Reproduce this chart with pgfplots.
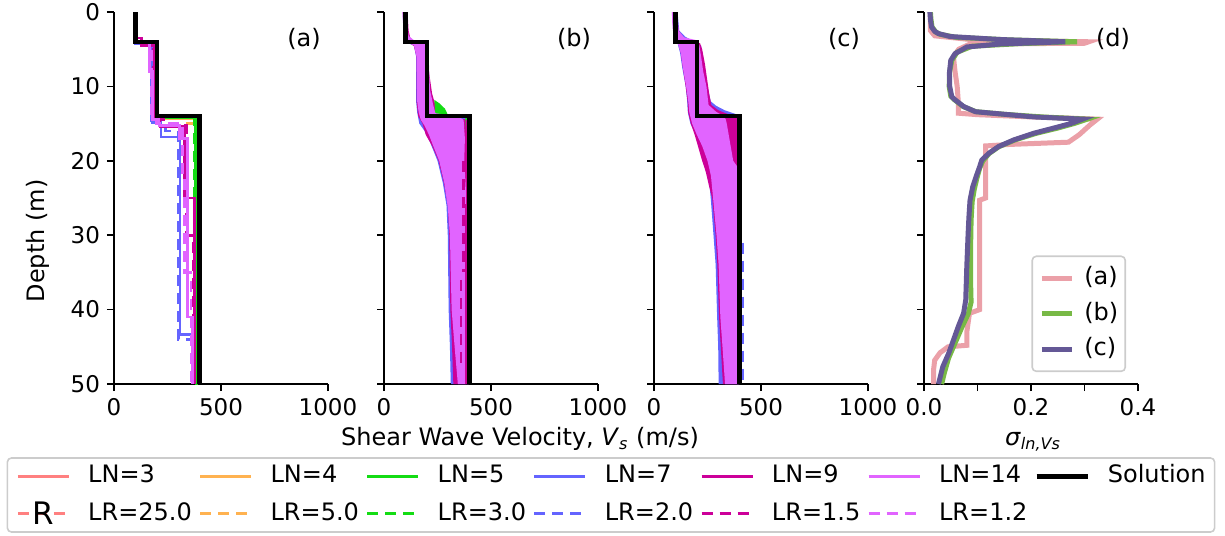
\documentclass[border=0pt]{standalone}
\usepackage{pgfplots}
\pgfplotsset{compat=1.18}
\usepackage{fontspec}
\setmainfont{DejaVu Sans}
\definecolor{cSalmon}{RGB}{255,128,128}
\definecolor{cOrange}{RGB}{255,178,80}
\definecolor{cGreen}{RGB}{20,220,20}
\definecolor{cBlue}{RGB}{100,100,255}
\definecolor{cMag}{RGB}{204,0,153}
\definecolor{cViol}{RGB}{225,100,255}
\definecolor{dA}{RGB}{235,160,168}
\definecolor{dB}{RGB}{120,185,70}
\definecolor{dC}{RGB}{100,88,150}
\pgfplotsset{
  panel/.style={scale only axis, width=107pt, height=186pt, y dir=reverse,
    xmin=0, xmax=1000, ymin=0, ymax=50, enlargelimits=false,
    axis x line=bottom, axis y line=left, axis line style={-, line width=0.8pt, black},
    tick align=outside, major tick length=3.5pt, tick style={black, line width=0.8pt},
    ytick={0,10,20,30,40,50}, yticklabels={}, xtick={0,500,1000}, xticklabels={0,500,1000},
    ticklabel style={font=\fontsize{11.5}{13}\selectfont},
    /pgf/number format/assume math mode=true},
  ln/.style={line width=1.4pt},
  lr/.style={line width=1.4pt, dash pattern=on 5.5pt off 3.5pt},
  sol/.style={black, line width=2.2pt},
  rlegend/.style={legend image code/.code={%
    \draw[cSalmon,line width=1.4pt,dash pattern=on 5.5pt off 3.5pt] (0pt,0pt) -- (25.5pt,0pt);
    \node[text=black,inner sep=0pt,anchor=center,text height=11.3pt,text depth=0pt,font=\fontsize{15.5}{16}\selectfont] at (12.75pt,0pt) {R};}},
}
\begin{document}
\begin{tikzpicture}
\useasboundingbox (0pt,0pt) rectangle (612.5pt,267.5pt);
% ---------------- panel (a)
\begin{axis}[panel, at={(57pt,75.5pt)}, anchor=south west, yticklabels={0,10,20,30,40,50}]
\addplot[ln,cSalmon] coordinates {(100,0)(100,4)(195,4)(195,14)(395,14)(395,50)};
\addplot[lr,cSalmon] coordinates {(100,0)(100,4.1)(192,4.1)(192,14.2)(392,14.2)(392,50)};
\addplot[ln,cOrange] coordinates {(102,0)(102,4)(190,4)(190,14.3)(385,14.3)(385,50)};
\addplot[lr,cOrange] coordinates {(100,0)(100,4)(188,4)(188,14)(210,14)(210,15)(388,15)(388,50)};
\addplot[ln,cGreen] coordinates {(100,0)(100,4)(180,4)(180,14.2)(382,14.2)(382,50)};
\addplot[lr,cGreen] coordinates {(103,0)(103,4.2)(183,4.2)(183,14)(378,14)(378,30)(385,30)(385,50)};
\addplot[ln,cBlue] coordinates {(100,0)(100,4.2)(175,4.2)(175,14.6)(220,14.6)(220,16.8)(308,16.8)(308,43.4)(370,43.4)(370,50)};
\addplot[lr,cBlue] coordinates {(100,0)(100,4)(178,4)(178,14.8)(240,14.8)(240,16)(300,16)(300,44)(365,44)(365,50)};
\addplot[ln,cMag] coordinates {(105,0)(105,3.5)(130,3.5)(130,4.5)(190,4.5)(190,14.2)(215,14.2)(215,15.4)(330,15.4)(330,25)(375,25)(375,50)};
\addplot[lr,cMag] coordinates {(100,0)(100,4)(185,4)(185,14.5)(240,14.5)(240,15.2)(340,15.2)(340,30)(370,30)(370,50)};
\addplot[ln,cViol] coordinates {(100,0)(100,4)(165,4)(165,8)(180,8)(180,14.5)(210,14.5)(210,15.3)(305,15.3)(305,17)(345,17)(345,41)(365,41)(365,50)};
\addplot[lr,cViol] coordinates {(102,0)(102,4)(175,4)(175,14)(200,14)(200,15)(320,15)(320,22)(330,22)(330,35)(360,35)(360,50)};
\addplot[sol] coordinates {(100,0)(100,4)(200,4)(200,14)(400,14)(400,50)};
\end{axis}
% ---------------- panel (b)
\begin{axis}[panel, at={(192pt,75.5pt)}, anchor=south west]
\addplot[fill=cBlue, draw=none] coordinates {(88,0)(90,3)(92,4)(140,4.5)(150,6)(150,12)(155,13.5)(165,15)(190,16)(215,17.5)(250,20)(275,23)(292,26)(298,30)(302,40)(308,45)(312,50)(395,50)(395,14.3)(260,14)(220,13)(200,10)(190,5)(120,3.8)(112,2.5)(108,0)} -- cycle;
\addplot[fill=cMag, draw=none] coordinates {(88,0)(92,3.5)(140,4.6)(152,6)(152,12)(160,14)(180,15)(195,16.5)(225,18)(255,20)(280,23)(298,26)(305,30)(310,40)(318,45)(324,50)(398,50)(398,14.5)(270,14)(245,13)(225,11)(205,7)(195,4.5)(125,3.8)(115,2.5)(110,0)} -- cycle;
\addplot[fill=cGreen, draw=none] coordinates {(235,11.8)(260,12.3)(285,13.0)(298,13.8)(240,13.8)} -- cycle;
\addplot[fill=cGreen, draw=none] coordinates {(380,14.2)(394,14.2)(394,17)(385,17)} -- cycle;
\addplot[fill=cViol, draw=none] coordinates {(86,0)(92,3.2)(100,3.9)(140,4.5)(152,6)(155,12)(162,13.5)(172,14.5)(190,15.3)(210,16.5)(230,18)(258,20)(282,23)(298,26.2)(308,30)(316,40)(330,45)(345,50)(385,50)(385,25)(375,20)(378,17)(372,14.5)(350,14.1)(240,13.6)(230,12.5)(215,10.5)(210,7)(205,5)(195,4.3)(140,3.8)(115,3.2)(110,2)(108,0)} -- cycle;
\addplot[ln,cMag] coordinates {(388,14.5)(388,26)(385,26)(385,50)};
\addplot[lr,cMag] coordinates {(372,20)(372,35)};
\addplot[lr,cMag] coordinates {(360,36)(360,48)};
\addplot[sol] coordinates {(100,0)(100,4)(200,4)(200,14)(400,14)(400,50)};
\end{axis}
% ---------------- panel (c)
\begin{axis}[panel, at={(327pt,75.5pt)}, anchor=south west]
\addplot[fill=cBlue, draw=none] coordinates {(85,0)(90,3)(110,4.2)(122,5.5)(132,7.5)(148,10)(155,12)(158,13.5)(170,15)(195,16.5)(220,18)(240,20)(255,22)(265,25)(278,30)(288,34)(295,41)(300,45)(302,50)(400,50)(400,14.5)(390,13.8)(330,13.2)(290,12.6)(265,12)(250,10)(235,8)(228,6)(220,4.5)(145,3.3)(118,2.5)(110,0)} -- cycle;
\addplot[fill=cMag, draw=none] coordinates {(84,0)(92,3.2)(115,4.3)(125,5.5)(135,7.5)(148,10)(157,12)(160,13.5)(172,15)(190,16.5)(205,18)(225,20)(242,21.5)(258,23.5)(272,25)(288,30)(296,34)(304,41)(312,45)(322,50)(398,50)(398,14.3)(360,13.9)(300,13.2)(268,12.5)(258,11)(248,9)(238,7)(225,5)(215,4.2)(140,3.5)(115,2.5)(108,0)} -- cycle;
\addplot[fill=cViol, draw=none] coordinates {(83,0)(88,2.5)(95,3.3)(112,4.3)(125,5.5)(135,7.5)(150,10)(160,12)(165,13.5)(178,15)(200,16.5)(225,18)(250,20)(266,22)(276,25)(292,30)(302,34)(310,41)(320,45)(332,50)(395,50)(395,21)(370,20)(352,17)(340,15)(335,14.4)(325,14)(290,13.4)(255,12.5)(245,10)(230,8)(220,6)(212,4.5)(200,3.8)(140,3.4)(115,2.5)(106,0)} -- cycle;
\addplot[lr,cBlue] coordinates {(415,31)(415,50)};
\addplot[sol] coordinates {(100,0)(100,4)(200,4)(200,14)(400,14)(400,50)};
\end{axis}
% ---------------- panel (d)
\begin{axis}[panel, at={(462pt,75.5pt)}, anchor=south west, xmin=0, xmax=0.4,
  xtick={0,0.1,0.2,0.3,0.4}, xticklabels={0.0,,0.2,,0.4},
  legend cell align=left,
  legend image code/.code={\draw[#1] (0pt,0pt) -- (15pt,0pt);},
  legend style={at={(0.944,0.032)}, anchor=south east, draw=black!20, line width=0.8pt,
    rounded corners=2pt, fill=white, font=\fontsize{12}{14}\selectfont,
    inner xsep=3.5pt, inner ysep=3.75pt, row sep=3.25pt,
    nodes={text height=9pt,text depth=2.5pt,inner ysep=1.5pt,inner xsep=0pt},
    /tikz/every odd column/.append style={column sep=5pt}}]
\addplot[dA, line width=2.5pt] coordinates {(0.012,0)(0.012,2.5)(0.02,3.2)(0.10,3.8)(0.308,4.0)(0.30,4.2)(0.086,4.3)(0.065,5.0)(0.055,6.0)(0.058,8)(0.062,10)(0.064,12)(0.064,13.6)(0.10,13.8)(0.20,14.1)(0.324,14.4)(0.31,15.2)(0.29,16.5)(0.27,17.5)(0.16,17.8)(0.115,18.0)(0.115,25.0)(0.104,25.3)(0.104,40.0)(0.085,40.5)(0.08,43)(0.08,44.8)(0.045,45.0)(0.03,45.8)(0.02,46.8)(0.018,48)(0.018,50)};
\addlegendentry{(a)}
\addplot[dB, line width=2.5pt] coordinates {(0.012,0)(0.013,1)(0.015,2)(0.022,2.7)(0.03,3.0)(0.06,3.4)(0.16,3.75)(0.286,4.0)(0.18,4.25)(0.09,4.6)(0.062,5.4)(0.052,6.5)(0.048,8)(0.047,10)(0.05,11.3)(0.057,11.8)(0.073,12.7)(0.097,13.4)(0.15,13.75)(0.22,14.1)(0.305,14.4)(0.28,15)(0.25,15.6)(0.21,16.3)(0.17,17.2)(0.14,18.1)(0.122,19)(0.11,20)(0.104,21)(0.099,22.3)(0.094,23.8)(0.09,25.5)(0.088,28)(0.087,32)(0.087,36)(0.088,39)(0.083,40.5)(0.07,42.5)(0.058,44.5)(0.046,46.5)(0.038,48.5)(0.033,50)};
\addlegendentry{(b)}
\addplot[dC, line width=2.5pt] coordinates {(0.011,0)(0.012,1)(0.014,2)(0.02,2.6)(0.027,2.9)(0.049,3.3)(0.143,3.7)(0.264,4.0)(0.143,4.3)(0.080,4.7)(0.058,5.6)(0.050,6.5)(0.0475,8.2)(0.048,10)(0.052,11.4)(0.058,11.8)(0.074,12.7)(0.096,13.4)(0.143,13.7)(0.205,14.1)(0.296,14.4)(0.274,15)(0.2425,15.6)(0.205,16.3)(0.1675,17.2)(0.139,18.1)(0.121,19)(0.108,19.9)(0.104,20.8)(0.0975,22.1)(0.091,23.5)(0.086,25.3)(0.084,27.5)(0.0825,29.7)(0.080,34.2)(0.078,38.7)(0.074,40.5)(0.064,42.3)(0.055,44.1)(0.046,45.9)(0.035,47.7)(0.027,50)};
\addlegendentry{(c)}
\end{axis}
% ---------------- labels
\node[font=\fontsize{12}{14}\selectfont, rotate=90] at (19pt,147pt) {Depth (m)};
\node[font=\fontsize{12}{14}\selectfont, anchor=base] at (260pt,44.5pt) {Shear Wave Velocity, \textit{V}\textsubscript{\textit{s}} (m/s)};
\node[font=\fontsize{12}{14}\selectfont, anchor=base] at (516.5pt,44.5pt) {\textit{σ}\textsubscript{\textit{ln,Vs}}};
\node[font=\fontsize{12}{14}\selectfont] at (152pt,248pt) {(a)};
\node[font=\fontsize{12}{14}\selectfont] at (287pt,248pt) {(b)};
\node[font=\fontsize{12}{14}\selectfont] at (422pt,248pt) {(c)};
\node[font=\fontsize{12}{14}\selectfont] at (556.5pt,248pt) {(d)};
% ---------------- main legend
\begin{axis}[hide axis, scale only axis, width=10pt, height=10pt, xmin=0, xmax=1, ymin=0, ymax=1,
  at={(305.5pt,20pt)}, anchor=center, legend columns=7, legend cell align=left,
  legend image code/.code={\draw[#1] (0pt,0pt) -- (25.5pt,0pt);},
  legend style={at={(0.5,0.5)}, anchor=center, draw=black!20, line width=0.8pt, rounded corners=2pt,
    font=\fontsize{12}{14}\selectfont, inner xsep=4.5pt, inner ysep=2pt, row sep=4pt,
    nodes={text height=9pt,text depth=2.5pt,inner ysep=1.5pt,inner xsep=0pt},
    /tikz/every odd column/.append style={column sep=9pt},
    /tikz/every even column/.append style={column sep=3.5pt}}]
\addlegendimage{ln,cSalmon}\addlegendentry{LN=3}
\addlegendimage{ln,cOrange}\addlegendentry{LN=4}
\addlegendimage{ln,cGreen}\addlegendentry{LN=5}
\addlegendimage{ln,cBlue}\addlegendentry{LN=7}
\addlegendimage{ln,cMag}\addlegendentry{LN=9}
\addlegendimage{ln,cViol}\addlegendentry{LN=14}
\addlegendimage{sol}\addlegendentry{Solution}
\addlegendimage{rlegend}\addlegendentry{LR=25.0}
\addlegendimage{lr,cOrange}\addlegendentry{LR=5.0}
\addlegendimage{lr,cGreen}\addlegendentry{LR=3.0}
\addlegendimage{lr,cBlue}\addlegendentry{LR=2.0}
\addlegendimage{lr,cMag}\addlegendentry{LR=1.5}
\addlegendimage{lr,cViol}\addlegendentry{LR=1.2}
\end{axis}
\end{tikzpicture}
\end{document}
